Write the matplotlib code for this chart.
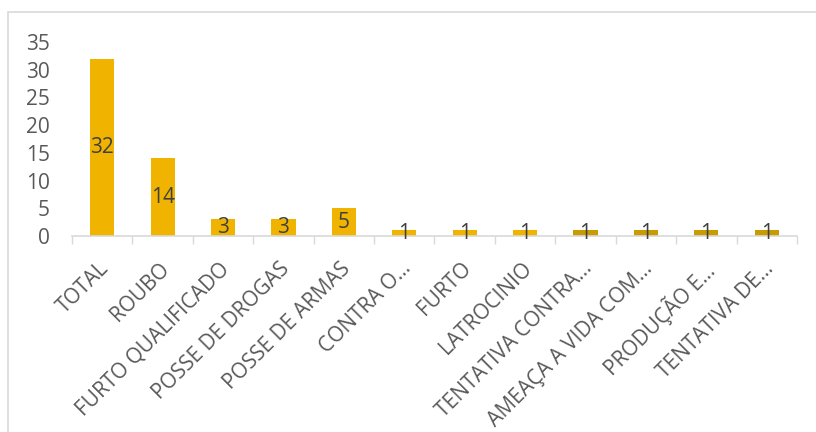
import matplotlib.pyplot as plt
from matplotlib.patches import Rectangle
from matplotlib.transforms import ScaledTranslation

# Ocorrências por tipo de crime
categorias = [
    "TOTAL",
    "ROUBO",
    "FURTO QUALIFICADO",
    "POSSE DE DROGAS",
    "POSSE DE ARMAS",
    "CONTRA O…",
    "FURTO",
    "LATROCINIO",
    "TENTATIVA CONTRA…",
    "AMEAÇA A VIDA COM…",
    "PRODUÇÃO E…",
    "TENTATIVA DE…",
]
valores = [32, 14, 3, 3, 5, 1, 1, 1, 1, 1, 1, 1]
cores = ["#F0B400"] * 8 + ["#C89B00"] * 4

TEXTO = "#595959"
EIXO = "#D9D9D9"

plt.rcParams["font.family"] = ["Open Sans", "DejaVu Sans"]

W, H = 816, 432
fig = plt.figure(figsize=(W / 100, H / 100), dpi=100)
ax = fig.add_axes([72 / W, 1 - 236 / H, (797 - 72) / W, (236 - 42) / H])

x = list(range(len(categorias)))
barras = ax.bar(x, valores, width=0.4, color=cores)
ax.bar_label(barras, labels=[str(v) for v in valores], label_type="center",
             fontsize=15, color="#404040")

ax.set_xlim(-0.5, len(categorias) - 0.5)
ax.set_ylim(0, 35)
ax.set_yticks(range(0, 36, 5))
ax.tick_params(axis="y", length=0, labelsize=15, labelcolor=TEXTO, pad=16)

# marcas do eixo x entre as categorias
ax.set_xticks([i - 0.5 for i in range(len(categorias) + 1)])
ax.set_xticklabels([])
ax.tick_params(axis="x", which="major", length=6, color=EIXO, width=1)
ax.set_xticks(x, minor=True)
ax.set_xticklabels(categorias, minor=True, rotation=45, ha="right",
                   va="top", rotation_mode="anchor", fontsize=15, color=TEXTO)
ax.tick_params(axis="x", which="minor", length=0, pad=16)
desloc = ScaledTranslation(-4 / 100, 0, fig.dpi_scale_trans)
for lbl in ax.get_xticklabels(minor=True):
    lbl.set_transform(lbl.get_transform() + desloc)

for lado in ["top", "right", "left"]:
    ax.spines[lado].set_visible(False)
ax.spines["bottom"].set_color(EIXO)
ax.spines["bottom"].set_linewidth(1.2)

# moldura do gráfico
fig.patches.append(Rectangle((8 / W, -0.1), 1.2, 1.1 - 12 / H,
                             transform=fig.transFigure, fill=False,
                             edgecolor=EIXO, linewidth=1.2))

fig.savefig("out.png", dpi=100)
